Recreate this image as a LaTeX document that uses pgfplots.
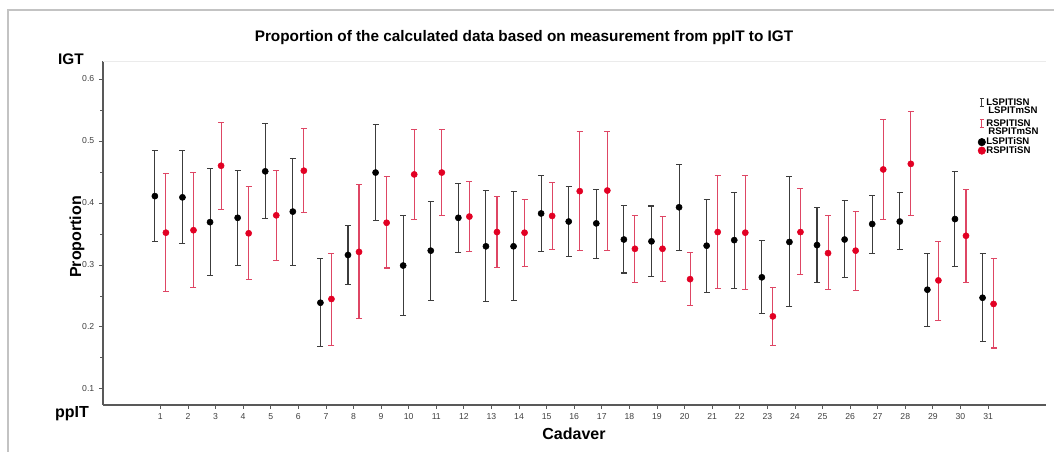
\documentclass[border=0pt]{standalone}
\usepackage{fontspec}
\setmainfont{Liberation Sans}
\usepackage{pgfplots}
\pgfplotsset{compat=1.18}
\usepackage{pgfplotstable}

\definecolor{ciblack}{RGB}{60,60,60}
\definecolor{cired}{RGB}{222,70,100}
\definecolor{dotred}{RGB}{226,0,35}
\definecolor{framegray}{RGB}{195,195,195}

% c = cadaver, b = left (black), r = right (red); l/m/h = lower, mean, upper
\pgfplotstableread{
c  bl    bm    bh    rl    rm    rh
1  0.338 0.411 0.485 0.257 0.352 0.448
2  0.335 0.409 0.484 0.264 0.356 0.449
3  0.283 0.369 0.455 0.390 0.460 0.530
4  0.299 0.376 0.452 0.276 0.351 0.426
5  0.375 0.451 0.528 0.307 0.380 0.452
6  0.299 0.386 0.471 0.384 0.452 0.520
7  0.168 0.239 0.311 0.170 0.245 0.319
8  0.269 0.316 0.363 0.213 0.321 0.430
9  0.372 0.449 0.527 0.295 0.368 0.442
10 0.219 0.299 0.380 0.374 0.446 0.519
11 0.243 0.323 0.402 0.379 0.449 0.519
12 0.320 0.376 0.431 0.322 0.378 0.434
13 0.241 0.330 0.420 0.296 0.353 0.411
14 0.243 0.330 0.418 0.297 0.352 0.406
15 0.321 0.383 0.444 0.325 0.379 0.433
16 0.314 0.370 0.426 0.323 0.419 0.515
17 0.311 0.367 0.422 0.323 0.420 0.515
18 0.287 0.341 0.396 0.272 0.326 0.380
19 0.281 0.338 0.395 0.273 0.326 0.378
20 0.323 0.393 0.462 0.235 0.277 0.320
21 0.255 0.331 0.406 0.262 0.353 0.444
22 0.262 0.340 0.417 0.260 0.352 0.444
23 0.221 0.280 0.340 0.170 0.217 0.264
24 0.233 0.337 0.442 0.284 0.353 0.423
25 0.271 0.332 0.392 0.260 0.319 0.379
26 0.279 0.341 0.404 0.259 0.323 0.386
27 0.319 0.366 0.412 0.374 0.454 0.534
28 0.325 0.370 0.417 0.379 0.463 0.548
29 0.201 0.260 0.319 0.210 0.275 0.338
30 0.298 0.374 0.450 0.272 0.347 0.421
31 0.177 0.247 0.318 0.166 0.237 0.310
}\cadaver

\begin{document}
\begin{tikzpicture}
\useasboundingbox (-77.25pt,-35.25pt) rectangle (713.25pt,303.75pt);
\draw[framegray, line width=1.2pt] (-71.25pt,-35.25pt) -- (-71.25pt,296.25pt) -- (713.25pt,296.25pt);
\begin{axis}[
    at={(0,0)}, anchor=south west,
    scale only axis, width=707.25pt, height=258pt,
    xmin=-1.08, xmax=33.1, ymin=0.074, ymax=0.629,
    axis x line=bottom, axis y line=left,
    axis line style={-, draw=black!65, line width=0.8pt},
    xtick={1,...,31},
    ytick={0.1,0.2,0.3,0.4,0.5,0.6},
    minor ytick={0.15,0.25,0.35,0.45,0.55},
    tick align=outside, major tick length=3pt, minor tick length=2.2pt,
    tick style={black!65, line width=0.6pt},
    ticklabel style={font=\fontsize{6.5}{7}\selectfont, text=black!75},
    /pgf/number format/assume math mode=true,
    y tick label style={/pgf/number format/.cd, fixed, fixed zerofill, precision=1},
    legend style={at={(0.926,0.897)}, anchor=north west, draw=none, fill=none,
        font=\fontsize{7.2}{7.6}\selectfont\bfseries, row sep=0pt, inner sep=1pt,
        nodes={inner sep=0.4pt, text height=4.9pt, text depth=0.3pt}},
    legend cell align=left,
    clip=false,
]
\draw[black!8] (rel axis cs:0,1) -- (rel axis cs:1,1);

\addplot[draw=none, mark=none,
    error bars/.cd, y dir=both, y explicit, error mark=-,
    error bar style={draw=ciblack, line width=0.8pt},
    error mark options={rotate=90, draw=ciblack, mark size=2.25pt, line width=0.8pt},
    /pgfplots/legend image code/.code={
        \draw[ciblack, line width=0.6pt] (0.25em,-0.3em) -- (0.25em,0.3em)
            (0.1em,-0.3em) -- (0.4em,-0.3em) (0.1em,0.3em) -- (0.4em,0.3em);}]
    table[x expr=\thisrow{c}-0.2, y=bm,
          y error plus expr=\thisrow{bh}-\thisrow{bm},
          y error minus expr=\thisrow{bm}-\thisrow{bl}] {\cadaver};
\addlegendentry{LSPITISN}
\addlegendimage{empty legend}
\addlegendentry[text depth=3.3pt]{\hspace{1.5pt}LSPITmSN}

\addplot[draw=none, mark=none,
    error bars/.cd, y dir=both, y explicit, error mark=-,
    error bar style={draw=cired, line width=0.8pt},
    error mark options={rotate=90, draw=cired, mark size=2.25pt, line width=0.8pt},
    /pgfplots/legend image code/.code={
        \draw[cired, line width=0.6pt] (0.25em,-0.3em) -- (0.25em,0.3em)
            (0.1em,-0.3em) -- (0.4em,-0.3em) (0.1em,0.3em) -- (0.4em,0.3em);}]
    table[x expr=\thisrow{c}+0.2, y=rm,
          y error plus expr=\thisrow{rh}-\thisrow{rm},
          y error minus expr=\thisrow{rm}-\thisrow{rl}] {\cadaver};
\addlegendentry{RSPITISN}
\addlegendimage{empty legend}
\addlegendentry[text depth=1.8pt]{\hspace{1.5pt}RSPITmSN}

\addplot[only marks, mark=*, mark size=2.3pt, draw=black, fill=black,
    /pgfplots/legend image code/.code={\fill[black] (0.25em,0) circle (2.8pt);}]
    table[x expr=\thisrow{c}-0.2, y=bm] {\cadaver};
\addlegendentry[text depth=1.05pt]{LSPITiSN}

\addplot[only marks, mark=*, mark size=2.3pt, draw=dotred, fill=dotred,
    /pgfplots/legend image code/.code={\fill[dotred] (0.25em,0) circle (2.8pt);}]
    table[x expr=\thisrow{c}+0.2, y=rm] {\cadaver};
\addlegendentry{RSPITiSN}
\end{axis}

\node[font=\fontsize{11.5}{13}\selectfont\bfseries] at (315.75pt,275.25pt)
    {Proportion of the calculated data based on measurement from ppIT to IGT};
\node[font=\fontsize{11.5}{13}\selectfont\bfseries] at (-24pt,259.5pt) {IGT};
\node[font=\fontsize{12}{13}\selectfont\bfseries] at (-23.25pt,-6.75pt) {ppIT};
\node[font=\fontsize{12}{13}\selectfont\bfseries, rotate=90] at (-19.5pt,126pt) {Proportion};
\node[font=\fontsize{12}{13}\selectfont\bfseries] at (353.25pt,-21.75pt) {Cadaver};
\end{tikzpicture}
\end{document}
